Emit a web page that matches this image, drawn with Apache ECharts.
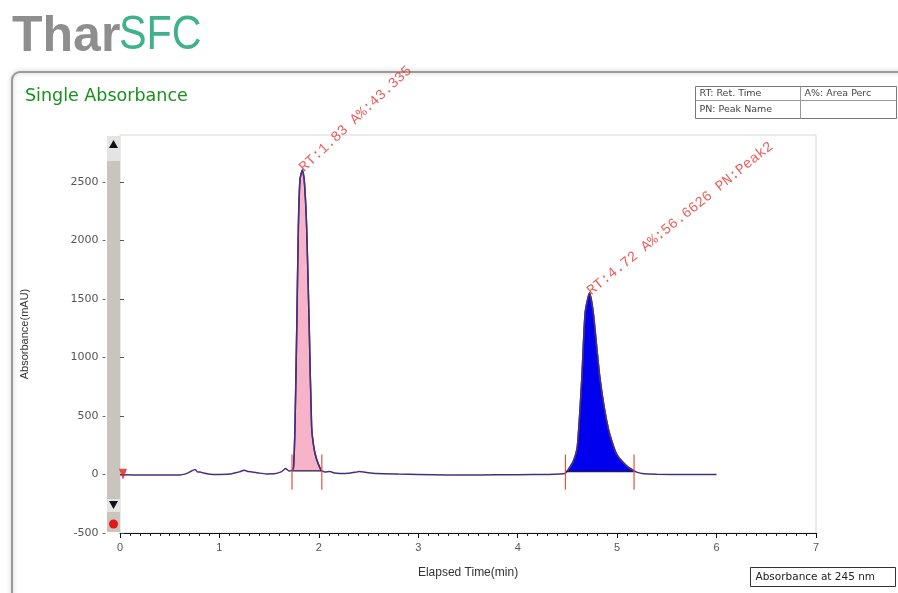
<!DOCTYPE html>
<html>
<head>
<meta charset="utf-8">
<script src="https://cdn.jsdelivr.net/npm/echarts@6/dist/echarts.min.js"></script>
<style>
  html, body { margin: 0; padding: 0; background: #fff; }
  #chart { width: 898px; height: 593px; }
</style>
</head>
<body>
<div id="chart"></div>
<script>
// elapsed time (min) and absorbance (mAU)
const times = [
  0, 0.3, 0.6, 0.66, 0.71, 0.755, 0.78, 0.805, 0.84, 0.905, 1.0, 1.1, 1.16, 1.2, 1.25, 1.29, 1.33,
  1.4, 1.47, 1.55, 1.62, 1.667, 1.7, 1.73, 1.745, 1.76, 1.778, 1.794, 1.81, 1.834, 1.853, 1.877,
  1.903, 1.927, 1.95, 1.978, 2.018, 2.03, 2.06, 2.11, 2.16, 2.21, 2.3, 2.36, 2.41, 2.47, 2.58,
  2.8, 3.0, 3.3, 3.6, 4.0, 4.3, 4.42, 4.48, 4.51, 4.56, 4.6, 4.644, 4.678, 4.722, 4.76, 4.829,
  4.913, 4.996, 5.097, 5.17, 5.197, 5.25, 5.4, 5.7, 6.0,
];
const absorbance = [
  -3, -4, -4, 5, 25, 43, 22, 22, 12, 2, 0, 3, 15, 22, 37, 25, 22,
  12, 5, 6, 22, 50, 30, 32, 60, 412, 1265, 2119, 2517, 2602, 2517, 2119,
  1265, 412, 230, 128, 43, 30, 22, 25, 12, 8, 10, 18, 25, 18, 8,
  3, 0, -4, -4, -2, 0, 3, 12, 43, 114, 242, 810, 1380, 1550, 1380, 810,
  384, 171, 71, 30, 20, 8, 2, 0, 0,
];

// integrated peaks
const peakRT = [1.83, 4.72];
const peakApex = [2602, 1550];
const peakLabels = ['RT:1.83 A%:43.335', 'RT:4.72 A%:56.6626 PN:Peak2'];
const peakLabelAngle = [43, 39];
const peakStart = [1.73, 4.48];
const peakEnd = [2.03, 5.17];
const peakBase = [30, 25];
const peakFill = ['#f7b4c8', '#0000ee'];

const yTicks = [-500, 0, 500, 1000, 1500, 2000, 2500];

const traceColor = '#46307e';
const signal = times.map((t, i) => [t, absorbance[i]]);

const chart = echarts.init(document.getElementById('chart'));

const series = [
  {
    name: 'signal',
    type: 'line',
    data: signal,
    showSymbol: false,
    smooth: 0.2,
    lineStyle: { color: traceColor, width: 1.5 },
    z: 3,
  },
];

peakStart.forEach((s, i) => {
  series.push({
    type: 'line',
    data: signal.filter((p) => p[0] >= s && p[0] <= peakEnd[i]),
    showSymbol: false,
    smooth: 0.2,
    lineStyle: { color: traceColor, width: 1.5 },
    areaStyle: { color: peakFill[i], opacity: 1, origin: peakBase[i] },
    z: 2,
  });
  series.push({
    type: 'line',
    data: [[s, peakBase[i]], [peakEnd[i], peakBase[i]]],
    showSymbol: false,
    lineStyle: { color: '#2a1a4a', width: 1.2 },
    z: 4,
  });
  [s, peakEnd[i]].forEach((t) => {
    series.push({
      type: 'line',
      data: [[t, -130], [t, 170]],
      showSymbol: false,
      lineStyle: { color: '#e8503f', width: 1.2 },
      z: 8,
    });
  });
});

series.push({
  type: 'scatter',
  data: peakRT.map((t, i) => ({
    value: [t, peakApex[i]],
    label: { rotate: peakLabelAngle[i], formatter: peakLabels[i] },
  })),
  symbolSize: 1,
  itemStyle: { color: 'transparent' },
  label: {
    show: true,
    position: [0, 0],
    align: 'left',
    verticalAlign: 'middle',
    color: '#e53935',
    fontFamily: 'Liberation Mono',
    fontSize: 14.5,
  },
  z: 6,
});

series.push({
  type: 'scatter',
  data: [[0.03, 2]],
  symbol: 'triangle',
  symbolRotate: 180,
  symbolSize: [8, 11],
  itemStyle: { color: '#d81e1e' },
  z: 7,
});

const option = {
  animation: false,
  grid: {
    left: 120,
    right: 82,
    top: 135,
    bottom: 60,
    show: true,
    borderColor: '#d8d8d8',
    borderWidth: 1,
  },
  xAxis: {
    type: 'value',
    min: 0,
    max: 7,
    interval: 1,
    name: 'Elapsed Time(min)',
    nameLocation: 'middle',
    nameGap: 34,
    nameTextStyle: { color: '#333', fontSize: 12, fontFamily: 'Liberation Sans' },
    axisLine: { onZero: false, lineStyle: { color: '#111', width: 1 } },
    axisTick: { length: 5, lineStyle: { color: '#111' } },
    minorTick: { show: true, splitNumber: 10, length: 3, lineStyle: { color: '#222' } },
    axisLabel: { color: '#555', fontSize: 11, margin: 9, fontFamily: 'Liberation Sans' },
    splitLine: { show: false },
  },
  yAxis: {
    type: 'value',
    min: -500,
    max: 2900,
    interval: 500,
    name: 'Absorbance(mAU)',
    nameLocation: 'middle',
    nameGap: 90,
    nameTextStyle: { color: '#333', fontSize: 11, fontFamily: 'Liberation Sans' },
    axisLine: { show: false },
    axisTick: { show: true, inside: true, length: 4, lineStyle: { color: '#555' } },
    axisLabel: {
      color: '#555',
      fontSize: 11,
      margin: 14,
      fontFamily: 'DejaVu Sans',
      showMaxLabel: false,
      formatter: (v) => (yTicks.includes(v) ? v + ' -' : ''),
    },
    splitLine: { show: false },
  },
  graphic: [
    // logo
    {
      type: 'text', left: 12, top: 12,
      style: { text: 'Thar', font: 'bold 50px "Liberation Sans"', fill: '#8e8e8e' },
    },
    {
      type: 'text', x: 119, y: 12, scaleX: 0.86,
      style: { text: 'SFC', font: '48px "Liberation Sans"', fill: '#3fb28c' },
    },
    // panel
    {
      type: 'rect', shape: { x: 12, y: 72, width: 920, height: 560, r: 8 },
      style: { fill: 'none', stroke: '#9a9a9a', lineWidth: 2, shadowBlur: 4, shadowColor: 'rgba(0,0,0,0.25)' },
      z: -1,
    },
    {
      type: 'text', left: 25, top: 87,
      style: { text: 'Single Absorbance', font: '17.5px "DejaVu Sans"', fill: '#17901c' },
    },
    // legend table
    {
      type: 'group', left: 693, top: 84,
      children: [
        { type: 'rect', shape: { x: 0, y: 0, width: 201, height: 32 }, style: { fill: '#fff', stroke: '#777', lineWidth: 1 } },
        { type: 'line', shape: { x1: 0, y1: 14, x2: 201, y2: 14 }, style: { stroke: '#999', lineWidth: 1 } },
        { type: 'line', shape: { x1: 105, y1: 0, x2: 105, y2: 32 }, style: { stroke: '#999', lineWidth: 1 } },
        { type: 'text', x: 4, y: 2, style: { text: 'RT: Ret. Time', font: '9.5px "DejaVu Sans"', fill: '#444' } },
        { type: 'text', x: 109, y: 2, style: { text: 'A%: Area Perc', font: '9.5px "DejaVu Sans"', fill: '#444' } },
        { type: 'text', x: 4, y: 18, style: { text: 'PN: Peak Name', font: '9.5px "DejaVu Sans"', fill: '#444' } },
      ],
    },
    // scrollbar
    {
      type: 'group', z: 50,
      children: [
        { type: 'rect', shape: { x: 107, y: 136, width: 13, height: 396 }, style: { fill: '#e6e4e0' } },
        { type: 'rect', shape: { x: 107, y: 161, width: 13, height: 338 }, style: { fill: '#c9c5bd' } },
        { type: 'rect', shape: { x: 107, y: 512, width: 13, height: 20 }, style: { fill: '#c9c5bd' } },
        { type: 'polygon', shape: { points: [[113.5, 140], [109, 148], [118, 148]] }, style: { fill: '#111' } },
        { type: 'polygon', shape: { points: [[113.5, 509], [109, 501], [118, 501]] }, style: { fill: '#111' } },
        { type: 'circle', shape: { cx: 113.5, cy: 524, r: 4.5 }, style: { fill: '#e01818' } },
      ],
    },
    // wavelength box
    {
      type: 'group', left: 750, top: 567,
      children: [
        { type: 'rect', shape: { x: 0, y: 0, width: 145, height: 19 }, style: { fill: '#fff', stroke: '#333', lineWidth: 1 } },
        { type: 'text', x: 5, y: 4, style: { text: 'Absorbance at 245 nm', font: '10.5px "DejaVu Sans"', fill: '#222' } },
      ],
    },
  ],
  series: series,
};

chart.setOption(option);
</script>
</body>
</html>
